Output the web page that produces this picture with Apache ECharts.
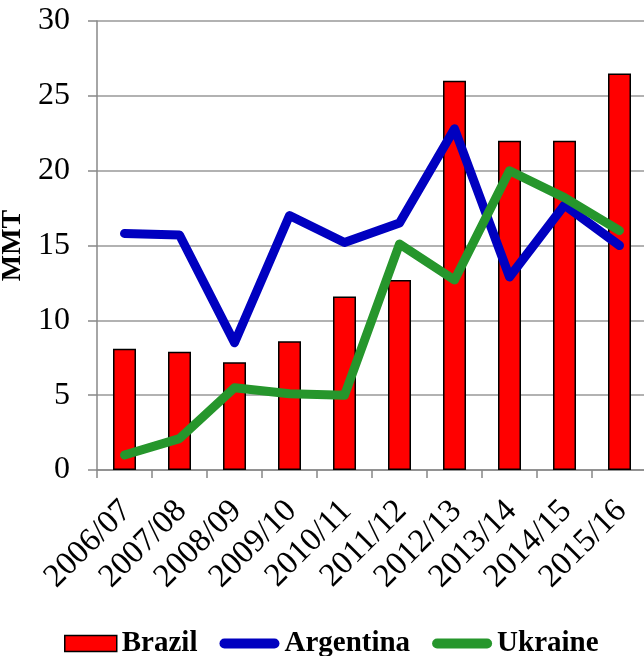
<!DOCTYPE html>
<html><head><meta charset="utf-8">
<script src="https://cdn.jsdelivr.net/npm/echarts@6/dist/echarts.min.js"></script>
<style>html,body{margin:0;padding:0;background:#fff}#c{width:644px;height:656px}</style>
</head><body><div id="c"></div>
<script>
const categories = ['2006/07','2007/08','2008/09','2009/10','2010/11','2011/12','2012/13','2013/14','2014/15','2015/16'];
const brazil    = [8.1, 7.9, 7.2, 8.6, 11.6, 12.7, 26.0, 22.0, 22.0, 26.5];
const argentina = [15.8, 15.7, 8.5, 17.0, 15.2, 16.5, 22.8, 12.9, 17.7, 15.0];
const ukraine   = [1.0, 2.1, 5.5, 5.1, 5.0, 15.1, 12.7, 20.0, 18.2, 16.0];
const yTicks = [0, 5, 10, 15, 20, 25, 30];

const serif = '"Liberation Serif", "Times New Roman", serif';
// icons padded to a common 60x16 box via moveTo points
const pill = 'path://M0,0 M60,16 M5,3 L55,3 A5,5 0 0 1 55,13 L5,13 A5,5 0 0 1 5,3 Z';
const box  = 'path://M0,0 M60,16 M8,0 L60,0 L60,16 L8,16 Z';
const chart = echarts.init(document.getElementById('c'), null, {renderer:'canvas'});
chart.setOption({
  animation: false,
  backgroundColor: '#fff',
  grid: {left: 97, top: 21, width: 550, height: 449, containLabel: false, outerBoundsMode: 'none'},
  legend: {
    left: 51, top: 624, itemGap: 22, itemWidth: 60, itemHeight: 16,
    textStyle: {fontFamily: serif, fontWeight: 'bold', fontSize: 29, color: '#000'},
    data: [
      {name: 'Brazil', icon: box, itemStyle: {color: '#ff0000', borderColor: '#000', borderWidth: 1.5}},
      {name: 'Argentina', icon: pill, itemStyle: {color: '#0000c0', borderWidth: 0}},
      {name: 'Ukraine', icon: pill, itemStyle: {color: '#26962c', borderWidth: 0}}
    ]
  },
  xAxis: {
    type: 'category', data: categories,
    axisLine: {lineStyle: {color: '#888', width: 1.5}},
    axisTick: {show: true, length: 8, lineStyle: {color: '#888', width: 1.5}},
    axisLabel: {rotate: 45, fontFamily: serif, fontSize: 33, color: '#000', margin: 38,
                padding: [0, -3, 0, 0], interval: 0}
  },
  yAxis: {
    type: 'value', min: yTicks[0], max: yTicks[yTicks.length-1], interval: 5,
    name: 'MMT', nameLocation: 'middle', nameGap: 56, nameRotate: 90,
    nameTextStyle: {fontFamily: serif, fontWeight: 'bold', fontSize: 28, color: '#000'},
    axisLine: {show: true, lineStyle: {color: '#888', width: 1.5}},
    axisTick: {show: true, length: 9, lineStyle: {color: '#888', width: 1.5}},
    splitLine: {lineStyle: {color: '#999', width: 1.5}},
    axisLabel: {fontFamily: serif, fontSize: 32, color: '#000', margin: 27}
  },
  series: [
    {name: 'Brazil', type: 'bar', data: brazil, barWidth: 23,
     itemStyle: {color: '#ff0000', borderColor: '#000', borderWidth: 1.5}, z: 2},
    {name: 'Argentina', type: 'line', data: argentina, symbol: 'none', z: 3,
     itemStyle: {color: '#0000c0'},
     lineStyle: {color: '#0000c0', width: 9, cap: 'round', join: 'round'}},
    {name: 'Ukraine', type: 'line', data: ukraine, symbol: 'none', z: 4,
     itemStyle: {color: '#26962c'},
     lineStyle: {color: '#26962c', width: 9, cap: 'round', join: 'round'}}
  ]
});
</script></body></html>
